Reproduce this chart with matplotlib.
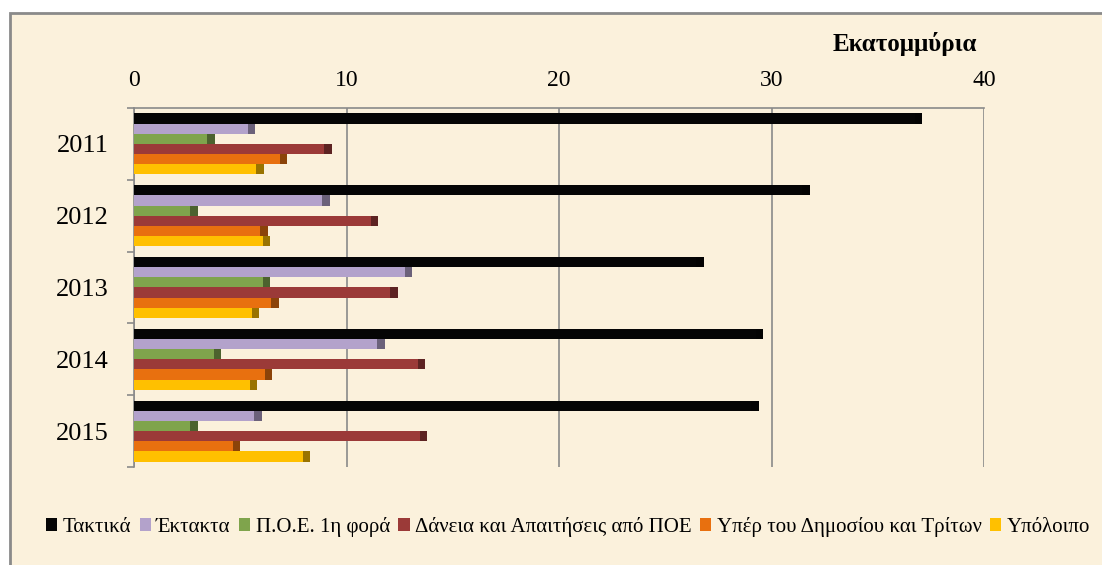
import numpy as np
import matplotlib
matplotlib.use("Agg")
import matplotlib.pyplot as plt
from matplotlib.patches import Rectangle, Patch
from matplotlib.colors import to_rgb

# Budget categories per year, in millions
years = ["2011", "2012", "2013", "2014", "2015"]
series = ["Τακτικά", "Έκτακτα", "Π.Ο.Ε. 1η φορά", "Δάνεια και Απαιτήσεις από ΠΟΕ",
          "Υπέρ του Δημοσίου και Τρίτων", "Υπόλοιπο"]
taktika = [37.1, 31.8, 26.8, 29.6, 29.4]
ektakta = [5.7, 9.2, 13.1, 11.8, 6.0]
poe_first = [3.8, 3.0, 6.4, 4.1, 3.0]
daneia = [9.3, 11.5, 12.4, 13.7, 13.8]
yper_dimosiou = [7.2, 6.3, 6.8, 6.5, 5.0]
ypoloipo = [6.1, 6.4, 5.9, 5.8, 8.3]
values = [taktika, ektakta, poe_first, daneia, yper_dimosiou, ypoloipo]
colors = ["#050505", "#B3A2CB", "#7FA44C", "#9B3A38", "#E8700F", "#FFC000"]

paper = "#FBF1DC"
grey = "#8A8A8A"
serif = ["Liberation Serif", "DejaVu Serif"]
plt.rcParams["font.family"] = serif

fig = plt.figure(figsize=(11.02, 5.65), dpi=100)
fig.patch.set_facecolor("white")
W, H = 1102, 565

# parchment panel with a grey frame (right and bottom run off the page)
fig.patches.append(Rectangle((10 / W, -0.1), 1.2, 1.1 - 13 / H, transform=fig.transFigure,
                             facecolor=paper, edgecolor=grey, linewidth=2, zorder=-5))

ax = fig.add_axes([134 / W, 1 - 467 / H, (984 - 134) / W, (467 - 108) / H])
ax.set_facecolor("none")

y = np.arange(len(years))
h = 0.142
for i, (vals, c) in enumerate(zip(values, colors)):
    pos = y + (i - 2.5) * h
    ax.barh(pos, vals, height=h, color=c, zorder=3)
    # darker end face of each bar
    dark = tuple(v * 0.6 for v in to_rgb(c))
    ax.barh(pos, [0.35] * len(vals), left=np.array(vals) - 0.35, height=h,
            color=dark, zorder=3)

ax.set_xlim(0, 40)
ax.set_ylim(len(years) - 0.5, -0.5)
ax.xaxis.tick_top()
ax.set_xticks([0, 10, 20, 30, 40])
ax.tick_params(axis="x", length=0, pad=12, labelsize=17)
ax.grid(axis="x", color=grey, linewidth=1.2, zorder=1)

ax.set_yticks(np.arange(len(years) + 1) - 0.5)
ax.set_yticklabels([])
ax.set_yticks(y, minor=True)
ax.set_yticklabels(years, minor=True)
ax.tick_params(axis="y", which="major", length=5, color=grey, width=1.2)
ax.tick_params(axis="y", which="minor", length=0, pad=18, labelsize=19)

for s in ["right", "bottom"]:
    ax.spines[s].set_visible(False)
for s in ["top", "left"]:
    ax.spines[s].set_color(grey)
    ax.spines[s].set_linewidth(1.2)

fig.text(905 / W, 1 - 44 / H, "Εκατομμύρια", ha="center", va="center",
         fontsize=18, fontweight="bold")

handles = [Patch(facecolor=c, edgecolor="none") for c in colors]
fig.legend(handles, series, loc="center left", bbox_to_anchor=(46 / W, 1 - 527 / H),
           ncol=6, frameon=False, fontsize=15, handlelength=0.55, handleheight=0.55,
           handletextpad=0.25, columnspacing=0.4, borderaxespad=0, borderpad=0)

fig.savefig("out.png", dpi=100, facecolor=fig.get_facecolor())
